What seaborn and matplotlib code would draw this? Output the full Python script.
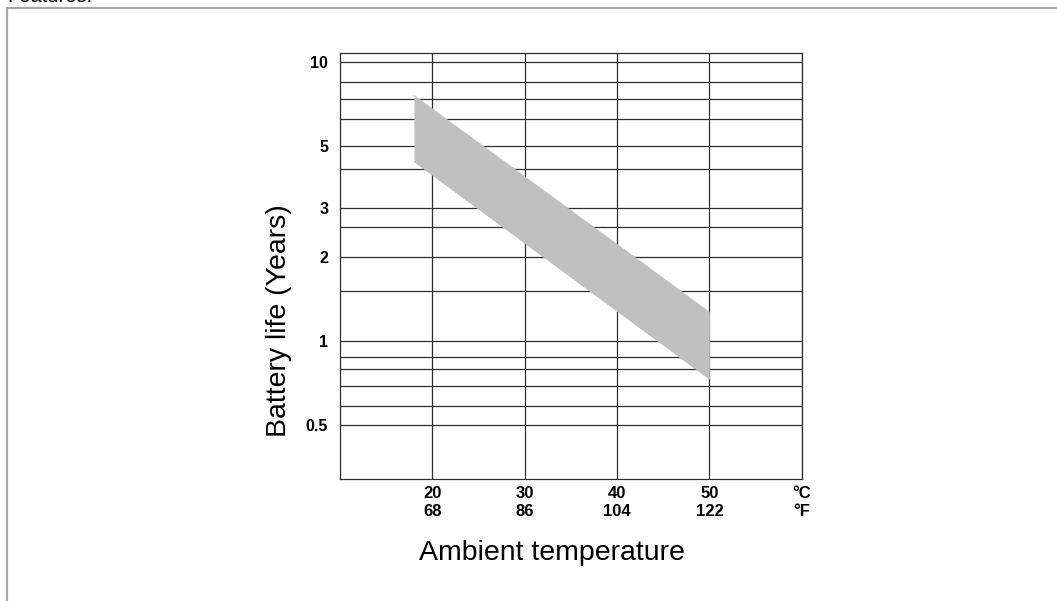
import numpy as np
import matplotlib
matplotlib.use("Agg")
import matplotlib.pyplot as plt
from matplotlib.patches import Rectangle
import seaborn as sns

# band of expected battery life vs ambient temperature
temps = [18, 50]
life_upper = [7.6, 1.27]
life_lower = [4.4, 0.73]

# axis ticks
x_ticks = [20, 30, 40, 50, 60]
x_labels = ["20\n68", "30\n86", "40\n104", "50\n122", "°C\n°F"]
y_ticks = [0.5, 1, 2, 3, 5, 10]
y_labels = ["0.5", "1", "2", "3", "5", "10"]
y_minor = [0.586, 0.69, 0.792, 0.878, 1.51, 2.57, 4.13, 6.26, 7.35, 8.5]

sns.set_style("white")
plt.rcParams["font.family"] = ["Liberation Sans", "DejaVu Sans"]
plt.rcParams["text.color"] = "black"
plt.rcParams["xtick.color"] = "black"
plt.rcParams["ytick.color"] = "black"

fig = plt.figure(figsize=(10.57, 6.01), dpi=100)
ax = fig.add_axes([0.3217, 0.2030, 0.4368, 0.7093])

grid_col = "#2e2e2e"

# shaded band
ax.fill_between(temps, life_lower, life_upper, color="#c0c0c0", lw=0, zorder=3)
sns.lineplot(x=temps, y=life_upper, ax=ax, color="#c0c0c0", lw=0.5, zorder=3)
sns.lineplot(x=temps, y=life_lower, ax=ax, color="#c0c0c0", lw=0.5, zorder=3)

ax.set_yscale("log")
ax.set_xlim(10, 60)
ax.set_ylim(0.320, 10.8)

ax.set_xticks(x_ticks)
ax.set_xticklabels(x_labels, fontsize=12, fontweight="bold", linespacing=1.25)
ax.set_yticks(y_ticks)
ax.set_yticklabels(y_labels, fontsize=11.5, fontweight="bold")
ax.set_yticks(y_minor, minor=True)
ax.yaxis.set_minor_formatter(plt.NullFormatter())

ax.tick_params(axis="both", which="both", length=0, colors="black")
ax.tick_params(axis="x", pad=5)
ax.tick_params(axis="y", pad=8.5)

ax.grid(True, which="major", axis="both", color=grid_col, lw=0.9, zorder=1)
ax.grid(True, which="minor", axis="y", color=grid_col, lw=0.9, zorder=1)
ax.set_axisbelow(True)
for s in ax.spines.values():
    s.set_color(grid_col)
    s.set_linewidth(0.9)
    s.set_visible(True)

ax.set_xlabel("")
ax.set_ylabel("")

fig.text(0.264, 0.4662, "Battery life (Years)", rotation=90, ha="center",
         va="center", fontsize=20.5, color="black")
fig.text(0.522, 0.0682, "Ambient temperature", ha="center", va="baseline",
         fontsize=20.5, color="black")

# page fragment: heading cut off at top and frame
fig.text(0.007, 0.996, "Features:", ha="left", va="baseline", fontsize=14.5,
         color="black")
fig.patches.append(Rectangle((7 / 1057, -0.1), 1.2, 1 - 8 / 601 + 0.1,
                             transform=fig.transFigure, fill=False,
                             edgecolor="#a8a8a8", lw=1.6))

fig.savefig("out.png", dpi=100)
